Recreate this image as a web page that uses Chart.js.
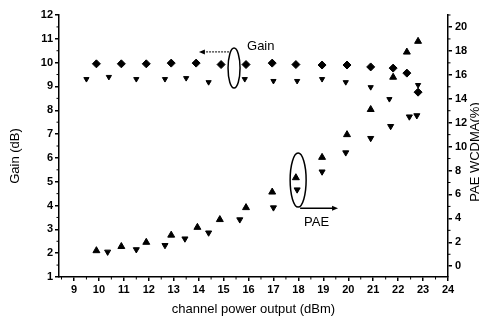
<!DOCTYPE html>
<html>
<head>
<meta charset="utf-8">
<script src="https://cdn.jsdelivr.net/npm/chart.js@4.4.0/dist/chart.umd.min.js"></script>
<style>
html, body { margin:0; padding:0; background:#fff; }
</style>
</head>
<body>
<canvas id="chart" width="479" height="322"></canvas>
<script>
// ----------------- Données -----------------
// Gain, série 1 (losanges pleins)
const gainAX = [9.9, 10.9, 11.9, 12.9, 13.9, 14.9, 15.9, 16.95, 17.9, 18.95, 19.95, 20.9, 21.8, 22.35, 22.8];
const gainAY = [9.95, 9.95, 9.95, 9.98, 9.98, 9.92, 9.92, 9.98, 9.92, 9.9, 9.9, 9.82, 9.77, 9.56, 8.76];
// Gain, série 2 (triangles pointe en bas)
const gainBX = [9.5, 10.4, 11.5, 12.65, 13.5, 14.4, 15.85, 17.0, 17.95, 18.95, 19.9, 20.9, 21.65, 22.8];
const gainBY = [9.31, 9.4, 9.31, 9.31, 9.35, 9.18, 9.31, 9.23, 9.23, 9.31, 9.18, 8.97, 8.47, 9.06];
// PAE, série 1 (triangles pleins)
const paeAX = [9.9, 10.9, 11.9, 12.9, 13.95, 14.85, 15.9, 16.95, 17.9, 18.95, 19.95, 20.9, 21.8, 22.35, 22.8];
const paeAY = [1.3, 1.65, 2.0, 2.6, 3.25, 3.9, 4.9, 6.2, 7.4, 9.1, 11.0, 13.1, 15.8, 17.9, 18.8];
// PAE, série 2 (triangles pointe en bas)
const paeBX = [10.35, 11.5, 12.65, 13.45, 14.4, 15.65, 17.0, 17.95, 18.95, 19.9, 20.9, 21.7, 22.45, 22.75];
const paeBY = [1.2, 1.4, 1.75, 2.3, 2.8, 3.9, 4.9, 6.4, 7.9, 9.5, 10.7, 11.7, 12.5, 12.6];

// Graduations
const xTicks = [9, 10, 11, 12, 13, 14, 15, 16, 17, 18, 19, 20, 21, 22, 23, 24];
const gainTicks = [1, 2, 3, 4, 5, 6, 7, 8, 9, 10, 11, 12];
const paeTicks = [0, 2, 4, 6, 8, 10, 12, 14, 16, 18, 20];

const FONT = "'Liberation Sans', Arial, sans-serif";

function pts(xs, ys) { return xs.map((x, i) => ({ x: x, y: ys[i] })); }

// ----------------- Plugins -----------------
// petites graduations + titres verticaux + annotations (ellipses, flèches)
const extras = {
    id: 'extras',
    afterDraw(chart) {
        const ctx = chart.ctx;
        const a = chart.chartArea;
        const sx = chart.scales.x, sy = chart.scales.y, sy1 = chart.scales.y1;
        ctx.save();
        ctx.strokeStyle = '#000';
        ctx.fillStyle = '#000';
        ctx.lineWidth = 1;

        // graduations mineures
        ctx.beginPath();
        for (let i = 0; i < xTicks.length; i++) {
            let p = sx.getPixelForValue(xTicks[i] - 0.5);
            ctx.moveTo(p, a.bottom); ctx.lineTo(p, a.bottom + 2.5);
        }
        for (let i = 1; i < gainTicks.length; i++) {
            let p = sy.getPixelForValue(gainTicks[i] - 0.5);
            ctx.moveTo(a.left, p); ctx.lineTo(a.left - 2.5, p);
        }
        for (let i = 0; i < paeTicks.length; i++) {
            let p = sy1.getPixelForValue(paeTicks[i] + 1);
            ctx.moveTo(a.right, p); ctx.lineTo(a.right + 2.5, p);
        }
        ctx.stroke();

        // titres verticaux
        ctx.font = "13px " + FONT;
        ctx.textAlign = 'center';
        ctx.textBaseline = 'middle';
        ctx.save();
        ctx.translate(15, 156);
        ctx.rotate(-Math.PI / 2);
        ctx.fillText('Gain (dB)', 0, 0);
        ctx.restore();
        ctx.save();
        ctx.translate(475, 152);
        ctx.rotate(-Math.PI / 2);
        ctx.fillText('PAE WCDMA(%)', 0, 0);
        ctx.restore();

        // annotation Gain
        let gx = sx.getPixelForValue(15.42), gy = sy.getPixelForValue(9.77);
        ctx.lineWidth = 1.5;
        ctx.beginPath();
        ctx.ellipse(gx, gy, 6, 20, 0, 0, Math.PI * 2);
        ctx.stroke();
        let ay = sy.getPixelForValue(10.45);
        let ax0 = sx.getPixelForValue(15.22), ax1 = sx.getPixelForValue(14.01);
        ctx.lineWidth = 1;
        ctx.setLineDash([2, 1]);
        ctx.beginPath(); ctx.moveTo(ax0, ay); ctx.lineTo(ax1 + 5, ay); ctx.stroke();
        ctx.setLineDash([]);
        ctx.beginPath(); ctx.moveTo(ax1, ay); ctx.lineTo(ax1 + 6, ay - 2.5); ctx.lineTo(ax1 + 6, ay + 2.5); ctx.closePath(); ctx.fill();
        ctx.textAlign = 'left';
        ctx.fillText('Gain', sx.getPixelForValue(15.94), sy.getPixelForValue(10.7));

        // annotation PAE
        let px = sx.getPixelForValue(17.99), py = sy1.getPixelForValue(7.2);
        ctx.lineWidth = 1.5;
        ctx.beginPath();
        ctx.ellipse(px, py, 8, 27, 0, 0, Math.PI * 2);
        ctx.stroke();
        let by = sy1.getPixelForValue(4.85);
        let bx0 = sx.getPixelForValue(18.07), bx1 = sx.getPixelForValue(19.59);
        ctx.beginPath(); ctx.moveTo(bx0, by); ctx.lineTo(bx1 - 5, by); ctx.stroke();
        ctx.beginPath(); ctx.moveTo(bx1, by); ctx.lineTo(bx1 - 6, by - 2.5); ctx.lineTo(bx1 - 6, by + 2.5); ctx.closePath(); ctx.fill();
        ctx.fillText('PAE', sx.getPixelForValue(18.23), sy1.getPixelForValue(3.68));

        ctx.restore();
    }
};

// ----------------- Graphique -----------------
const axisGrid = { display: true, drawOnChartArea: false, drawTicks: true, tickLength: 4, color: '#000', lineWidth: 1.5 };
const axisBorder = { display: true, color: '#000', width: 1.5 };
const tickFont = { family: FONT, size: 11, weight: 'bold' };

new Chart(document.getElementById('chart'), {
    type: 'scatter',
    data: {
        datasets: [
            { label: 'Gain 1', data: pts(gainAX, gainAY), yAxisID: 'y', pointStyle: 'rectRot', pointRadius: 4,
              backgroundColor: '#000', borderColor: '#000', borderWidth: 1 },
            { label: 'Gain 2', data: pts(gainBX, gainBY), yAxisID: 'y', pointStyle: 'triangle', rotation: 180, pointRadius: 3,
              backgroundColor: '#000', borderColor: '#000', borderWidth: 1 },
            { label: 'PAE 1', data: pts(paeAX, paeAY), yAxisID: 'y1', pointStyle: 'triangle', pointRadius: 4,
              backgroundColor: '#000', borderColor: '#000', borderWidth: 1 },
            { label: 'PAE 2', data: pts(paeBX, paeBY), yAxisID: 'y1', pointStyle: 'triangle', rotation: 180, pointRadius: 3.5,
              backgroundColor: '#000', borderColor: '#000', borderWidth: 1 }
        ]
    },
    options: {
        responsive: false,
        animation: false,
        devicePixelRatio: 1,
        layout: { padding: { top: 15, left: 0, right: 0, bottom: 0 } },
        plugins: { legend: { display: false }, tooltip: { enabled: false } },
        scales: {
            x: {
                type: 'linear', position: 'bottom', min: 8.4, max: 24,
                afterBuildTicks: s => { s.ticks = xTicks.map(v => ({ value: v })); },
                afterFit: s => { s.height = 45; },
                grid: axisGrid, border: axisBorder,
                ticks: { color: '#000', font: tickFont, padding: 2, maxRotation: 0, autoSkip: false },
                title: { display: true, text: 'channel power output (dBm)', color: '#000',
                         font: { family: FONT, size: 13 }, padding: { top: 0, bottom: 5 } }
            },
            y: {
                type: 'linear', position: 'left', min: 1, max: 12,
                afterBuildTicks: s => { s.ticks = gainTicks.map(v => ({ value: v })); },
                afterFit: s => { s.width = 59; },
                grid: axisGrid, border: axisBorder,
                ticks: { color: '#000', font: tickFont, padding: 2 }
            },
            y1: {
                type: 'linear', position: 'right', min: -0.9, max: 21,
                afterBuildTicks: s => { s.ticks = paeTicks.map(v => ({ value: v })); },
                afterFit: s => { s.width = 31; },
                grid: axisGrid, border: axisBorder,
                ticks: { color: '#000', font: tickFont, padding: 3 }
            }
        }
    },
    plugins: [extras]
});
</script>
</body>
</html>
